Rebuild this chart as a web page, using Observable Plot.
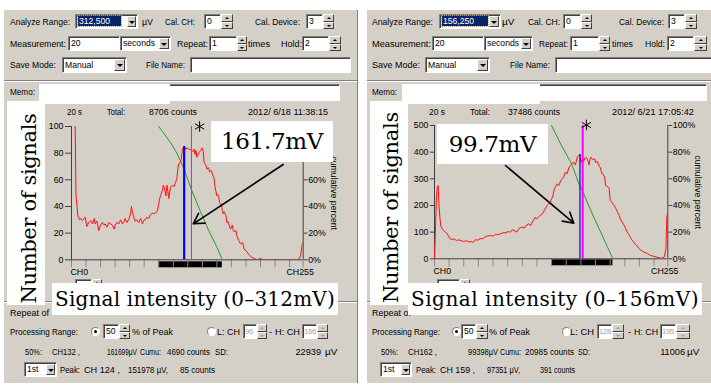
<!DOCTYPE html>
<html><head><meta charset="utf-8">
<script src="https://cdn.jsdelivr.net/npm/d3@7"></script>
<script src="https://cdn.jsdelivr.net/npm/@observablehq/plot@0.6"></script>
<style>
html,body{margin:0;padding:0;}
body{width:711px;height:385px;position:relative;overflow:hidden;background:#fff;font-family:"Liberation Sans",Arial,sans-serif;}
div{box-sizing:border-box;}
.p{position:absolute;background:#d4d0c8;}
.a{position:absolute;}
.t{position:absolute;font-size:9.2px;line-height:12px;height:12px;white-space:nowrap;color:#000;transform-origin:0 50%;}
.e{position:absolute;background:#fff;border-top:1px solid #808080;border-left:1px solid #808080;border-right:1px solid #fff;border-bottom:1px solid #fff;box-shadow:inset 1px 1px 0 #404040;font-size:8.6px;white-space:nowrap;overflow:hidden;padding-left:2px;color:#000;}
.b{position:absolute;background:#d4d0c8;border-top:1px solid #fff;border-left:1px solid #fff;border-right:1px solid #404040;border-bottom:1px solid #404040;}
.dn,.up{position:absolute;left:50%;top:50%;width:0;height:0;border-left:3px solid transparent;border-right:3px solid transparent;margin-left:-3px;}
.dn{border-top:3px solid #000;margin-top:-1px;}
.up{border-bottom:3px solid #000;margin-top:-2px;}
.sm .dn,.sm .up{border-left-width:2px;border-right-width:2px;margin-left:-2px;}
.sm .dn{border-top-width:2px;}
.sm .up{border-bottom-width:2px;margin-top:-1px;}
.dis .dn{border-top-color:#a0a0a0;} .dis .up{border-bottom-color:#a0a0a0;}
.sep{position:absolute;height:2px;border-top:1px solid #808080;border-bottom:1px solid #fff;}
.r{position:absolute;width:9px;height:9px;border-radius:50%;background:#fff;border:1px solid #808080;border-right-color:#fff;border-bottom-color:#fff;}
.dot{position:absolute;left:2px;top:2px;width:3px;height:3px;border-radius:50%;background:#000;}
.w{position:absolute;background:#fff;}
.ser{font-family:"DejaVu Serif",serif;color:#000;white-space:nowrap;line-height:1;}
.hl{display:inline-block;background:#0a246a;color:#fff;outline:1px dotted #b0a070;line-height:10px;padding:0 1px;margin-top:1px;}
</style></head>
<body>
<script>
// ---------------- data ----------------
const xTicks = [0, 16, 32, 48, 64, 80, 96, 112, 128, 144, 160, 176, 192, 208, 224, 240, 255];
const leftYTicks = [0, 20, 40, 60, 80, 100];
const rightYTicks = [0, 100, 200, 300, 400, 500];

// [channel, counts] — range 0–312 mV
const leftCounts = [[4,100],[5,48],[6,41],[7,33],[9,30],[10,31],[12,29.5],[15,32],[17,25],[19,28],[21,29.5],[23,27],[25,31],[26,27],[28,29],[30,22],[32,26],[34,28],[36,26],[37,27],[39,24.5],[41,28],[43,27],[45,26],[47,23],[48,26],[50,28],[52,27],[54,30],[56,27],[58,29],[59,31],[61,28],[63,30],[65,34.5],[66,40],[67,36],[69,31],[70,29],[72,30],[74,28],[76,31],[78,27],[80,30],[81,30],[83,32],[85,31],[87,34],[89,35],[91,34.5],[92,35],[94,36],[95,38],[97,46],[98,48],[100,52],[101,56],[102,54.5],[104,48],[105,56],[106,52],[107,46],[109,54.5],[111,56],[113,55],[114,57],[116,61],[117,68],[118,72],[120,73],[121,76],[122,83],[124,85],[126,83],[127,84],[129,83],[131,82.5],[133,81],[135,83],[136,79],[137,82],[138,77],[140,80],[142,82],[144,84],[145,81],[146,73],[148,71],[149,68],[151,69],[152,66],[154,67],[155,64.5],[157,61],[158,54.5],[160,48],[161,49],[162,47],[163,43],[165,41],[166,37],[167,34.5],[168,36],[170,33],[171,28],[172,29],[173,27],[175,23],[177,26],[178,22],[179,21],[181,22],[182,18],[184,14.5],[186,12],[188,13],[189,11],[190,8],[193,6],[195,4],[198,2],[201,1],[204,0],[208,1],[211,0],[215,0],[250,0],[252,3],[254,12],[255,13]];
// [channel, cumulative percent]
const leftCumulative = [[96,100],[109,88],[116,80],[122,71],[126,64],[133,51],[142,36],[151,22],[160,9.5],[166,0]];
const leftPeak = [124, 85];
const leftHalf = 132;
const leftRange = [96, 166];
const leftStar = [141, 100];
const leftArrow = [233, 71.5, 134, 27];

// range 0–156 mV
const rightCounts = [[0,0],[1,100],[2,220],[3,270],[4,275],[5,195],[6,150],[7,122],[9,109],[11,102],[13,97.5],[15,87.5],[17,75],[19,72.5],[21,75],[24,69],[27,71],[29,67.5],[32,65],[35,67.5],[38,62.5],[40,66],[42,61],[45,72.5],[47,69],[50,76],[53,75],[56,84],[58,85],[61,87.5],[64,85],[67,92.5],[69,90],[72,94],[75,97.5],[78,97.5],[80,102],[83,100],[85,109],[87,106],[90,100],[92,112.5],[95,119],[98,115],[100,125],[103,131],[105,125],[107,137.5],[110,156],[112,150],[115,162],[118,169],[120,181],[123,200],[126,210],[129,231],[131,262],[134,281],[136,275],[138,294],[141,306],[143,325],[145,319],[147,344],[149,350],[150,356],[152,362],[154,352],[156,381],[157,385],[159,391],[160,362],[162,375],[163,365],[165,381],[167,375],[169,352],[170,375],[171,381],[173,372],[175,375],[176,362],[178,365],[180,347],[181,344],[183,319],[184,319],[186,306],[187,275],[189,272],[191,262],[192,219],[194,212],[196,200],[198,190],[200,175],[202,162],[203,150],[205,137.5],[207,127.5],[209,112.5],[211,97.5],[212,94],[214,81],[216,69],[218,62.5],[220,52.5],[222,46],[223,40],[225,34],[229,25],[233,19],[236,12.5],[240,9],[243,6],[247,2.5],[249,2.5],[251,6],[253,37],[254,162],[255,169]];
const rightCumulative = [[128,100],[138,86],[150,71],[158,56],[163,49],[170,37.5],[180,22.5],[189,9],[195,0]];
const rightPeak = [159, 391];
const rightHalf = 162;
const rightRange = [128, 195];
const rightStar = [166, 502];
const rightArrow = [77.6, 350, 152.3, 133.5];

// ---------------- helpers ----------------
const B = document.body;
function mk(cls, x, y, w, h, html) {
  const d = document.createElement("div");
  d.className = cls;
  d.style.left = x + "px"; d.style.top = y + "px";
  if (w != null) d.style.width = w + "px";
  if (h != null) d.style.height = h + "px";
  if (html != null) d.innerHTML = html;
  B.appendChild(d);
  return d;
}
// label from x1 to x2 (fitted horizontally), vertically centred on yc; "r" = right-aligned at x2
function T(x1, x2, yc, s, mode) {
  const d = mk("t", x1, yc - 6, null, null, s);
  if (x2 > x1) {
    const w = d.getBoundingClientRect().width;
    if (mode === "r") { d.style.left = (x2 - w) + "px"; return d; }
    const k = Math.min(1.08, (x2 - x1) / w);
    d.style.transform = "scaleX(" + k + ")";
  }
  return d;
}
function edit(x1, y1, x2, y2, s, color) {
  const d = mk("e", x1, y1, x2 - x1, y2 - y1, s == null ? "" : s);
  d.style.lineHeight = (y2 - y1 - 2) + "px";
  if (color) d.style.color = color;
  return d;
}
function drop(x1, y1, x2, y2) { mk("b", x1, y1, x2 - x1, y2 - y1, '<i class="dn"></i>'); }
function combo(x1, y1, x2, y2, s, bx) { edit(x1, y1, x2, y2, s); drop(bx, y1 + 2, x2 - 2, y2 - 2); }
function spin(x1, y1, x2, y2, dis) {
  const m = Math.round((y1 + y2) / 2);
  const c = "b sm" + (dis ? " dis" : "");
  mk(c, x1, y1, x2 - x1, m - y1, '<i class="up"></i>');
  mk(c, x1, m, x2 - x1, y2 - m, '<i class="dn"></i>');
}
function radio(cx, cy, on) { mk("r", cx - 4.5, cy - 4.5, null, null, on ? '<i class="dot"></i>' : ""); }
function disEdit(x1, y1, x2, y2, s) {
  const d = edit(x1, y1, x2, y2, s, "#a0a0a0");
  d.style.paddingLeft = "1px"; d.style.fontSize = "7.6px"; d.style.letterSpacing = "-0.2px";
}

// ---------------- panels ----------------
mk("p", 4, 10, 354, 373);
mk("a", 357, 10, 1, 373).style.background = "#808080";
mk("p", 367, 10, 344, 373);

function panelUI(P) {
  combo(P.ar[0], 14, P.ar[1], 29, '<span class="hl" style="width:' + P.ar[2] + 'px">' + P.range + '</span>', P.ar[3]);
  edit(P.cal[0], 14, P.cal[1], 29, "0"); spin(P.cal[1], 14, P.cal[2], 29);
  edit(P.dev[0], 14, P.dev[1], 29, "3"); spin(P.dev[1], 14, P.dev[2], 29);
  edit(P.me[0], 36, P.me[1], 51, "20");
  combo(P.me[1], 36, P.me[2], 51, "seconds", P.me[3]);
  edit(P.rep[0], 36, P.rep[1], 51, "1"); spin(P.rep[1], 36, P.rep[2], 51);
  edit(P.hold[0], 36, P.hold[1], 51, "2"); spin(P.hold[1], 36, P.hold[2], 51);
  combo(P.sm[0], 57, P.sm[1], 73, "Manual", P.sm[2]);
  edit(P.fn[0], 57, P.fn[1], 73, "");
  mk("sep", P.px, 80, P.pw, 2);
  edit(P.memo[0], 84, P.memo[1], 101, "");
  edit(P.hid[0], 279, P.hid[1], 293, ""); spin(P.hid[1], 279, P.hid[1] + 10, 293);
  mk("sep", P.px, 301, P.pw, 2);
  radio(P.pr[0], 331.5, true);
  edit(P.pr[1], 324, P.pr[2], 339, "50"); spin(P.pr[2], 324, P.pr[3], 339);
  radio(P.pr[4], 331.5, false);
  disEdit(P.pr[5], 324, P.pr[6], 339, P.lch); spin(P.pr[6], 324, P.pr[7], 339, true);
  disEdit(P.pr[8], 324, P.pr[9], 339, P.hch); spin(P.pr[9], 324, P.pr[10], 339, true);
  combo(P.pk[0], 362, P.pk[1], 377, "1st", P.pk[2]);
  P.labels.forEach(([x1, x2, yc, s, m]) => T(x1, x2, yc, s, m));
}

panelUI({
  px: 4, pw: 353, range: "312,500", ar: [75, 138, 41, 127],
  cal: [204, 221, 233], dev: [306, 323, 334],
  me: [68, 120, 171, 159], rep: [209, 237, 247], hold: [302, 329, 341],
  sm: [62, 127, 114], fn: [190, 351], memo: [39, 340], hid: [75, 92],
  pr: [95, 103, 119, 130, 211, 243, 257, 267, 302, 317, 328], lch: "96", hch: "166",
  pk: [24, 57, 46],
  labels: [
    [10, 70, 21.5, "Analyze Range:"], [142, 153, 21.5, "µV"], [165, 195, 21.5, "Cal. CH:"], [255, 300, 21.5, "Cal. Device:"],
    [10, 66, 43.5, "Measurement:"], [177, 208, 43.5, "Repeat:"], [248, 270, 43.5, "times"], [281, 302, 43.5, "Hold:"],
    [10, 56, 64.5, "Save Mode:"], [146, 185, 64.5, "File Name:"],
    [10, 35, 92, "Memo:"],
    [67, 82, 111.5, "20 s"], [107, 125, 111.5, "Total:"], [149, 197, 111.5, "8706 counts"], [248, 328, 111.5, "2012/ 6/18 11:38:15"],
    [10, 49, 313, "Repeat of"],
    [10, 78, 331.5, "Processing Range:"], [132, 173, 331.5, "% of Peak"], [217, 240, 331.5, "L: CH"], [269, 0, 331.5, "-"], [275, 300, 331.5, "H: CH"],
    [25, 42, 351.5, "50%:"], [52, 80, 351.5, "CH132 ,"], [107, 137, 351.5, "161699µV"], [140, 161, 351.5, "Cumu:"], [167, 210, 351.5, "4690 counts"], [215, 228, 351.5, "SD:"], [290, 321, 351.5, "22939", "r"], [325, 339, 351.5, "µV"],
    [60, 80, 369.5, "Peak:"], [84, 120, 369.5, "CH 124 ,"], [128, 168, 369.5, "151978 µV,"], [180, 215, 369.5, "85 counts"]
  ]
});
panelUI({
  px: 367, pw: 344, range: "156,250", ar: [439, 501, 44, 489],
  cal: [563, 581, 592], dev: [668, 685, 697],
  me: [432, 484, 533, 521], rep: [570, 599, 610], hold: [667, 694, 707],
  sm: [425, 490, 477], fn: [555, 716], memo: [402, 707], hid: [437, 460],
  pr: [456, 461, 476, 488, 566, 597, 612, 624, 660, 676, 690], lch: "128", hch: "195",
  pk: [380, 412, 401],
  labels: [
    [372, 433, 21.5, "Analyze Range:"], [502, 517, 21.5, "µV"], [528, 560, 21.5, "Cal. CH:"], [619, 664, 21.5, "Cal. Device:"],
    [372, 431, 43.5, "Measurement:"], [539, 568, 43.5, "Repeat:"], [612, 633, 43.5, "times"], [645, 665, 43.5, "Hold:"],
    [372, 420, 64.5, "Save Mode:"], [510, 550, 64.5, "File Name:"],
    [372, 397, 92, "Memo:"],
    [429, 445, 111.5, "20 s"], [470, 490, 111.5, "Total:"], [508, 560, 111.5, "37486 counts"], [612, 694, 111.5, "2012/ 6/21 17:05:42"],
    [372, 411, 313, "Repeat of"],
    [372, 440, 331.5, "Processing Range:"], [489, 530, 331.5, "% of Peak"], [570, 594, 331.5, "L: CH"], [628, 0, 331.5, "-"], [634, 658, 331.5, "H: CH"],
    [381, 398, 351.5, "50%:"], [408, 437, 351.5, "CH162 ,"], [468, 498, 351.5, "99398µV"], [500, 521, 351.5, "Cumu:"], [525, 574, 351.5, "20985 counts"], [578, 590, 351.5, "SD:"], [648, 685, 351.5, "11006", "r"], [687, 703, 351.5, "µV"],
    [416, 436, 369.5, "Peak:"], [440, 475, 369.5, "CH 159 ,"], [487, 520, 369.5, "97351 µV,"], [540, 575, 369.5, "391 counts"]
  ]
});

// ---------------- charts ----------------
function histogram(o) {
  const frameH = o.height - o.mt - o.mb;
  const k = o.ymax / 100;
  return Plot.plot({
    width: o.width, height: o.height,
    marginLeft: o.ml, marginRight: o.mr, marginTop: o.mt, marginBottom: o.mb,
    style: {background: "transparent", fontFamily: "'Liberation Sans', Arial, sans-serif", fontSize: "8.8px", color: "#000", overflow: "visible"},
    x: {domain: [0, 255], axis: null, label: null},
    y: {domain: [0, o.ymax], axis: null, label: null},
    marks: [
      Plot.rect([o.range], {x1: d => d[0], x2: d => d[1], fill: "#000", insetTop: frameH + o.gap, insetBottom: -(o.gap + 6)}),
      Plot.axisX({ticks: xTicks, tickSize: 8, tickFormat: () => "", stroke: "#8a8a8a", label: null}),
      Plot.axisY({ticks: o.yTicks, tickSize: o.lts, tickPadding: 2, stroke: "#404040", label: null}),
      Plot.axisY({anchor: "right", ticks: o.yTicks, tickFormat: d => (d / k) + "%", tickSize: 4, tickPadding: 1, stroke: "#404040", label: null}),
      Plot.ruleX([0, 255], {stroke: "#404040"}),
      Plot.ruleY([0], {stroke: "#404040"}),
      Plot.text(["CH0"], {text: d => d, frameAnchor: "bottom-left", textAnchor: "start", dy: 15, dx: -1}),
      Plot.text(["CH255"], {text: d => d, frameAnchor: "bottom-right", textAnchor: "middle", dy: 15, dx: -3}),
      Plot.text(["cumulative percent"], {text: d => d, frameAnchor: "right", textAnchor: "middle", rotate: 90, dx: 30.5}),
      Plot.line(o.cum, {x: d => d[0], y: d => d[1] * k, stroke: "#2a9a2a", strokeWidth: 1}),
      Plot.line(o.counts, {x: d => d[0], y: d => d[1], stroke: "#ff1010", strokeWidth: 1, clip: true}),
      Plot.ruleX([o.peak], {x: d => d[0], y1: 0, y2: d => d[1], stroke: "#0000ff", strokeWidth: o.bw}),
      Plot.ruleX([o.half], {x: d => d, y1: 0, y2: o.ymax, stroke: "#ff00ff", strokeWidth: o.mw}),
      Plot.dot([o.star], {x: d => d[0], y: d => d[1], symbol: "asterisk", r: 5, stroke: "#000", strokeWidth: 1}),
      Plot.arrow([o.arrow], {x1: d => d[0], y1: d => d[1], x2: d => d[2], y2: d => d[3], stroke: "#000", strokeWidth: 1.6, headLength: 11})
    ]
  });
}

const wl = mk("a", 4, 100);
wl.appendChild(histogram({width: 354, height: 185, ml: 67, mr: 55.3, mt: 26, mb: 25.7, ymax: 100, yTicks: leftYTicks, lts: 6,
  counts: leftCounts, cum: leftCumulative, peak: leftPeak, half: leftHalf, range: leftRange, star: leftStar, arrow: leftArrow, bw: 2.2, mw: 1, gap: 2}));
const wr = mk("a", 358, 100);
wr.appendChild(histogram({width: 353, height: 185, ml: 76, mr: 43.7, mt: 25, mb: 26.7, ymax: 500, yTicks: rightYTicks, lts: 4,
  counts: rightCounts, cum: rightCumulative, peak: rightPeak, half: rightHalf, range: rightRange, star: rightStar, arrow: rightArrow, bw: 1.2, mw: 2, gap: 1}));

// ---------------- annotation overlays ----------------
function fit(span, target) {
  const w = span.getBoundingClientRect().width;
  const n = span.textContent.length;
  span.style.letterSpacing = ((target - w) / n) + "px";
}
function box(x1, y1, x2, y2, text, fs, target) {
  const d = mk("w", x1, y1, x2 - x1, y2 - y1);
  d.style.display = "flex"; d.style.alignItems = "center"; d.style.justifyContent = "center";
  const s = document.createElement("span");
  s.className = "ser"; s.style.fontSize = fs + "px"; s.textContent = text;
  d.appendChild(s);
  fit(s, target);
}
function vtext(cx, cy, text, fs, target) {
  const s = document.createElement("div");
  s.className = "ser"; s.style.position = "absolute"; s.style.fontSize = fs + "px";
  s.textContent = text; B.appendChild(s);
  fit(s, target);
  const r = s.getBoundingClientRect();
  s.style.left = (cx - r.width / 2) + "px"; s.style.top = (cy - r.height / 2) + "px";
  s.style.transform = "rotate(-90deg)";
}
// left
mk("w", 7, 100.5, 163, 3);
mk("w", 39, 83.5, 131, 20);
mk("w", 7, 101, 38, 204);
vtext(29, 208, "Number of signals", 21, 190);
box(211, 121, 333, 162, "161.7mV", 23, 102);
box(52, 283, 338, 315, "Signal intensity (0–312mV)", 20, 280);
// right
mk("w", 370, 100.5, 170, 3);
mk("w", 402, 83.5, 138, 20);
mk("w", 370, 101, 38, 204);
vtext(391, 207, "Number of signals", 21, 191);
box(437, 124, 548, 164, "99.7mV", 23, 87.5);
box(408, 283, 702, 315, "Signal intensity (0–156mV)", 20, 288);
</script>
</body></html>
